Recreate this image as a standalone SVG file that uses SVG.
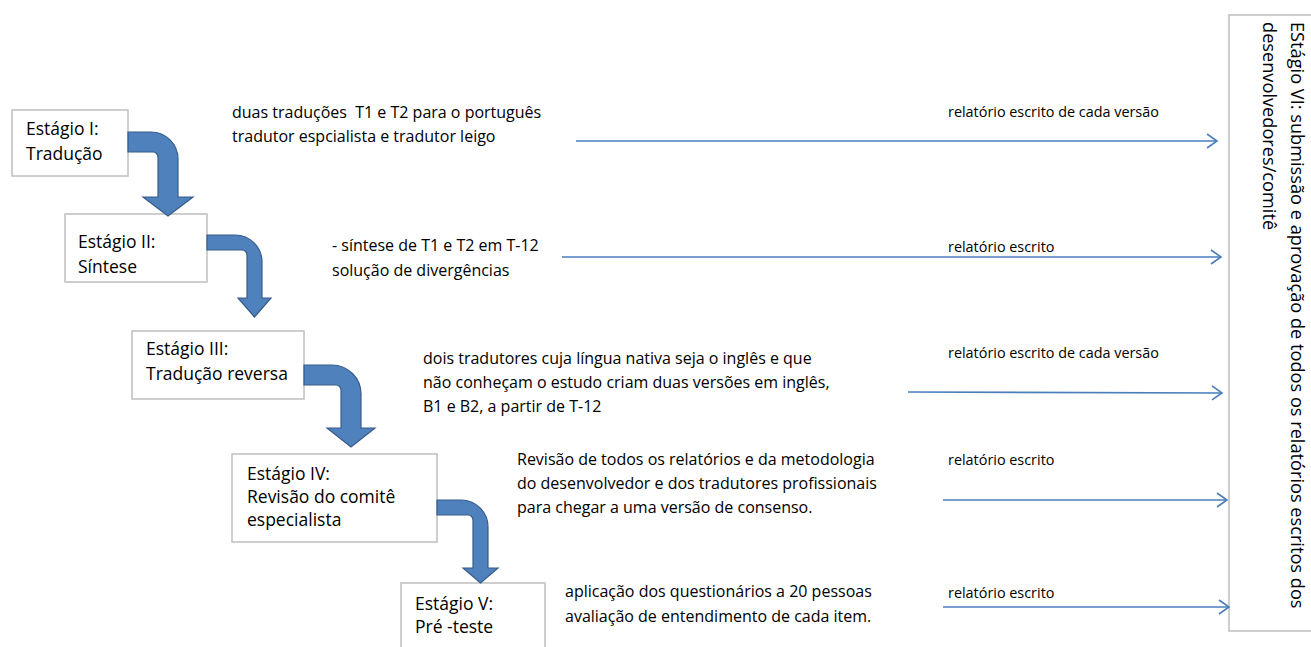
<svg xmlns="http://www.w3.org/2000/svg" width="1311" height="647" viewBox="0 0 1311 647">
<defs>
<style>
.box{fill:#ffffff;stroke:#bfbfbf;stroke-width:1.5}
.bt{font-family:"Open Sans","Noto Sans",sans-serif;font-size:17.5px;fill:#000}
.vt{font-family:"Open Sans","Noto Sans",sans-serif;font-size:18.2px;fill:#000}
.t{font-family:"Open Sans","Noto Sans",sans-serif;font-size:16px;fill:#000;white-space:pre}
.lbl{font-family:"Open Sans","Noto Sans",sans-serif;font-size:14.4px;fill:#000}
.bend{fill:#4f81bd;stroke:#385d8a;stroke-width:1.2}
.conn{stroke:#4a7ebb;stroke-width:1.6;fill:none}
</style>
<marker id="open" markerWidth="14" markerHeight="16" refX="11" refY="8" orient="auto" markerUnits="userSpaceOnUse">
<polyline points="1,1 11,8 1,15" fill="none" stroke="#4a7ebb" stroke-width="1.6"/>
</marker>
</defs>

<g id="stage6">
<rect class="box" x="1229" y="15" width="100" height="616"/>
<text class="vt" transform="translate(1291,22) rotate(90)">EStágio VI: submissão e aprovação de todos os relatórios escritos dos</text>
<text class="vt" transform="translate(1263,22) rotate(90)">desenvolvedores/comitê</text>
</g>

<g id="stage1">
<rect class="box" x="12" y="110" width="116" height="66"/>
<text class="bt" x="26" y="135">Estágio I:</text>
<text class="bt" x="26" y="160">Tradução</text>
</g>

<g id="stage2">
<rect class="box" x="65" y="214" width="142" height="68"/>
<text class="bt" x="78" y="248">Estágio II:</text>
<text class="bt" x="78" y="273">Síntese</text>
</g>

<g id="stage3">
<rect class="box" x="132" y="331" width="172" height="68"/>
<text class="bt" x="146" y="355">Estágio III:</text>
<text class="bt" x="146" y="380">Tradução reversa</text>
</g>

<g id="stage4">
<rect class="box" x="232" y="454" width="205" height="88"/>
<text class="bt" x="247" y="480">Estágio IV:</text>
<text class="bt" x="247" y="503">Revisão do comitê</text>
<text class="bt" x="247" y="526">especialista</text>
</g>

<g id="stage5">
<rect class="box" x="401" y="583" width="144" height="80"/>
<text class="bt" x="415" y="610">Estágio V:</text>
<text class="bt" x="415" y="633">Pré -teste</text>
</g>

<g id="bent-arrows">
<path class="bend" d="M128,132 H151 A27,27 0 0 1 178,159 V197 H193 L168,216 L143,197 H158 V157 A5,5 0 0 0 153,152 H128 Z"/>
<path class="bend" d="M207,235 H235 A27,27 0 0 1 262,262 V298 H271 L254.5,317 L238,298 H247 V255 A5,5 0 0 0 242,250 H207 Z"/>
<path class="bend" d="M304,365 H332 A29,29 0 0 1 361,394 V428 H375 L351,447 L327,428 H341 V390 A5,5 0 0 0 336,385 H304 Z"/>
<path class="bend" d="M437,500 H461 A27,27 0 0 1 488,527 V568 H498 L480.5,583 L463,568 H473 V520 A5,5 0 0 0 468,515 H437 Z"/>
</g>

<g id="texts">
<text class="t" x="232" y="118" xml:space="preserve">duas traduções  T1 e T2 para o português</text>
<text class="t" x="232" y="142">tradutor espcialista e tradutor leigo</text>
<text class="t" x="332" y="251">- síntese de T1 e T2 em T-12</text>
<text class="t" x="332" y="276">solução de divergências</text>
<text class="t" x="423" y="364">dois tradutores cuja língua nativa seja o inglês e que</text>
<text class="t" x="423" y="388">não conheçam o estudo criam duas versões em inglês,</text>
<text class="t" x="423" y="412">B1 e B2, a partir de T-12</text>
<text class="t" x="517" y="465">Revisão de todos os relatórios e da metodologia</text>
<text class="t" x="517" y="489">do desenvolvedor e dos tradutores profissionais</text>
<text class="t" x="517" y="513">para chegar a uma versão de consenso.</text>
<text class="t" x="565" y="597">aplicação dos questionários a 20 pessoas</text>
<text class="t" x="565" y="622">avaliação de entendimento de cada item.</text>
</g>

<g id="connectors">
<line class="conn" x1="576" y1="141" x2="1217" y2="141" marker-end="url(#open)"/>
<line class="conn" x1="562" y1="257" x2="1221" y2="257" marker-end="url(#open)"/>
<line class="conn" x1="908" y1="392" x2="1222" y2="393" marker-end="url(#open)"/>
<line class="conn" x1="943" y1="500" x2="1227" y2="500" marker-end="url(#open)"/>
<line class="conn" x1="943" y1="607" x2="1229" y2="607" marker-end="url(#open)"/>
<text class="lbl" x="948" y="117">relatório escrito de cada versão</text>
<text class="lbl" x="948" y="252">relatório escrito</text>
<text class="lbl" x="948" y="358">relatório escrito de cada versão</text>
<text class="lbl" x="948" y="465">relatório escrito</text>
<text class="lbl" x="948" y="598">relatório escrito</text>
</g>
</svg>
